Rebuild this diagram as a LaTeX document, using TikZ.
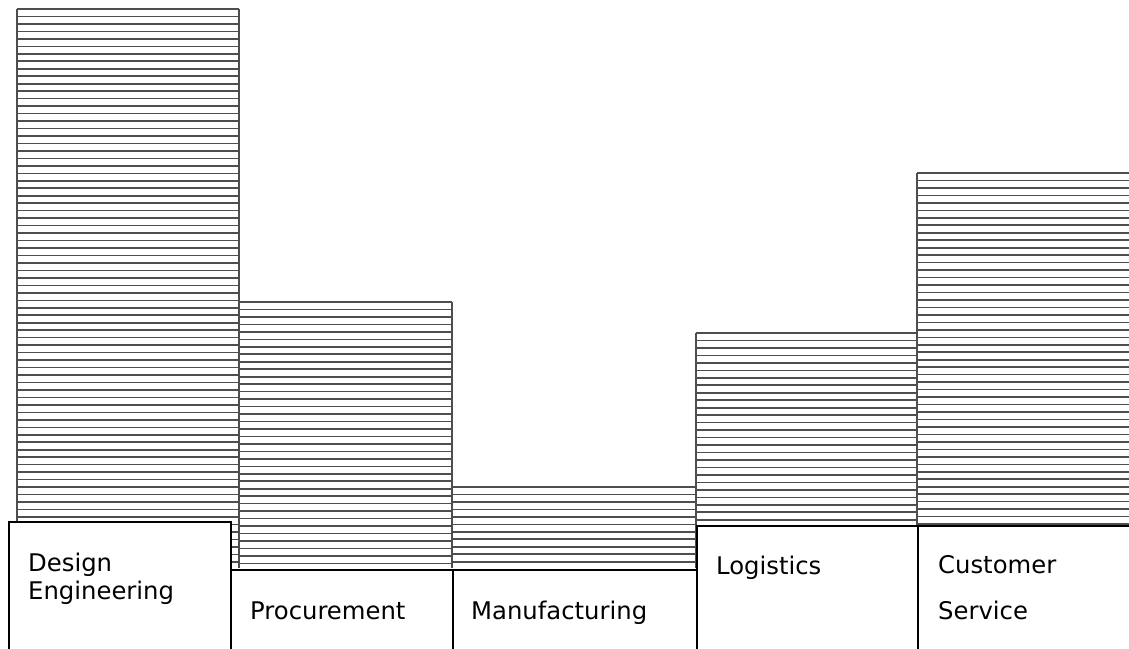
\documentclass[tikz,border=0pt]{standalone}
\usepackage{fontspec}
\setmainfont{DejaVu Sans}
\definecolor{hatch}{RGB}{78,78,78}
\tikzset{
  hatchline/.style={draw=hatch, line width=1.6pt},
  labelbox/.style={draw=black, line width=1.6pt, fill=white, rectangle, inner sep=0pt, anchor=north west},
  labeltext/.style={anchor=base west, inner sep=0pt, font=\fontsize{24.3}{28}\selectfont}
}
\newcommand\hatchbar[4]{%
  \pgfmathtruncatemacro\nlines{floor((#4-#3)/7.47)}%
  \foreach \k in {0,...,\nlines}{\draw[hatchline] (#1,{#3+\k*7.47}) -- (#2,{#3+\k*7.47});}%
  \draw[hatchline] (#1,#3) -- (#1,#4) (#2,#3) -- (#2,#4);%
}
\begin{document}
\begin{tikzpicture}[x=1pt,y=-1pt]
\useasboundingbox (0,0) rectangle (1129,648);
\clip (0,0) rectangle (1129,648);
% bars
\hatchbar{17}{239}{9}{568}
\hatchbar{239}{452}{302}{568}
\hatchbar{452}{696}{487}{568}
\hatchbar{696}{917}{333}{525}
\hatchbar{917}{1140}{173}{525}
% label boxes
\node[labelbox, minimum width=222pt, minimum height=135pt] (b1) at (8,521) {};
\node[labelbox, minimum width=222pt, minimum height=90pt] (b2) at (230,569) {};
\node[labelbox, minimum width=244pt, minimum height=90pt] (b3) at (452,569) {};
\node[labelbox, minimum width=221pt, minimum height=130pt] (b4) at (696,525) {};
\node[labelbox, minimum width=230pt, minimum height=130pt] (b5) at (917,525) {};
% texts
\node[labeltext] (t1a) at (28,571) {Design};
\node[labeltext] (t1b) at (28,599) {Engineering};
\node[labeltext] (t2) at (250,619) {Procurement};
\node[labeltext] (t3) at (471,619) {Manufacturing};
\node[labeltext] (t4) at (716,574) {Logistics};
\node[labeltext] (t5a) at (938,573) {Customer};
\node[labeltext] (t5b) at (938,619) {Service};
\end{tikzpicture}
\end{document}
